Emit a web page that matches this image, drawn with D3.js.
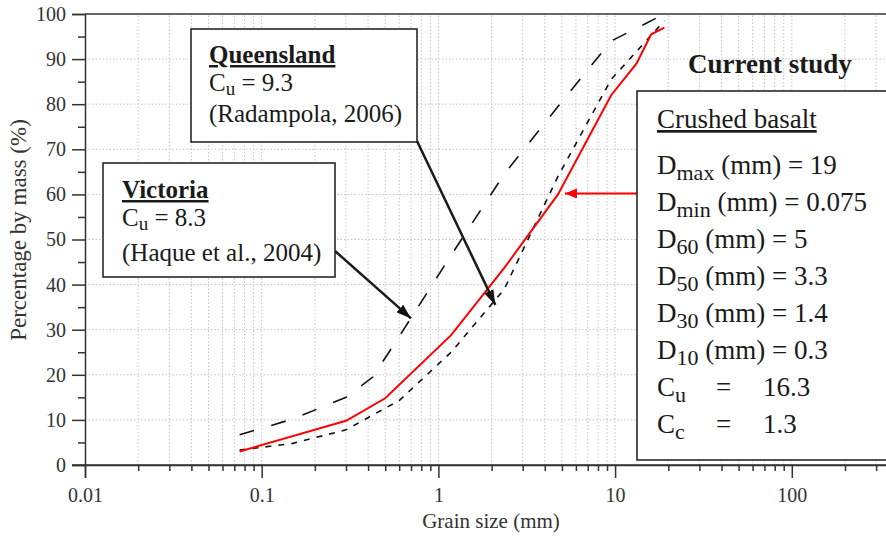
<!DOCTYPE html>
<html>
<head>
<meta charset="utf-8">
<script src="https://cdn.jsdelivr.net/npm/d3@7"></script>
<style>
body { margin: 0; background: #fff; }
svg { display: block; font-family: "Liberation Serif", "Times New Roman", serif; }
</style>
</head>
<body>
<div id="chart"></div>
<script>
// grading curves: grain size (mm) vs percentage passing (%)
const basaltSize = [0.075, 0.3, 0.5, 1.18, 2.36, 4.75, 9.5, 13.2, 16, 19];
const basaltPass = [3, 9.8, 14.8, 28.8, 43.7, 60, 82, 89, 95.5, 97];

const victoriaSize = [0.075, 0.15, 0.3, 0.425, 0.6, 1.18, 2.36, 4.75, 9.5, 19];
const victoriaPass = [6.7, 10.2, 15, 19.5, 28.5, 46.5, 64.5, 79.5, 94, 100];

const queenslandSize = [0.075, 0.15, 0.3, 0.6, 1.18, 2.36, 4.75, 9.5, 19];
const queenslandPass = [3.3, 4.8, 7.8, 14.3, 25, 39, 64, 85.5, 98.5];

// axis ticks
const xMajor = [0.01, 0.1, 1, 10, 100];
const yMajor = [0, 10, 20, 30, 40, 50, 60, 70, 80, 90, 100];
const yMinor = [5, 15, 25, 35, 45, 55, 65, 75, 85, 95];

// where the arrows point (data coords)
const victoriaTip = [0.7, 32.5];
const queenslandTip = [2.1, 35.5];
const basaltTip = [5.2, 60.2];

// basalt properties box
const basaltRows = [
    ["D", "max", " (mm) = 19"],
    ["D", "min", " (mm) = 0.075"],
    ["D", "60", " (mm) = 5"],
    ["D", "50", " (mm) = 3.3"],
    ["D", "30", " (mm) = 1.4"],
    ["D", "10", " (mm) = 0.3"]
];
const basaltCoef = [["u", "16.3"], ["c", "1.3"]];

const W = 886, H = 537;
const margin = {top: 14, left: 85, bottom: 465};
const decade = 176.7;

const x = d3.scaleLog().domain([0.01, 1000]).range([margin.left, margin.left + 5 * decade]);
const y = d3.scaleLinear().domain([0, 100]).range([margin.bottom, margin.top]);

const svg = d3.select("#chart").append("svg")
    .attr("width", W)
    .attr("height", H);

// arrow heads
const defs = svg.append("defs");
[["arrowBlack", "#111", 15, 10], ["arrowRed", "#f00", 12, 10]].forEach(([id, c, l, w]) => {
    defs.append("marker")
        .attr("id", id)
        .attr("markerUnits", "userSpaceOnUse")
        .attr("viewBox", `0 0 ${l} ${w}`)
        .attr("refX", l).attr("refY", w / 2)
        .attr("markerWidth", l).attr("markerHeight", w)
        .attr("orient", "auto")
        .append("path")
        .attr("d", `M0,0L${l},${w / 2}L0,${w}Z`)
        .attr("fill", c);
});

// all log ticks inside the visible width
const xAll = x.ticks().filter(d => x(d) < W);

//grid
svg.append("g")
    .selectAll("line")
    .data(xAll.filter(d => d > 0.01))
    .join("line")
    .attr("x1", d => x(d)).attr("x2", d => x(d))
    .attr("y1", y(0)).attr("y2", y(100))
    .attr("stroke", "#c4c4c4")
    .attr("stroke-dasharray", "1.5,2");

svg.append("g")
    .selectAll("line")
    .data(yMajor.filter(d => d > 0 && d < 100))
    .join("line")
    .attr("x1", margin.left).attr("x2", W)
    .attr("y1", d => y(d)).attr("y2", d => y(d))
    .attr("stroke", "#c4c4c4")
    .attr("stroke-dasharray", "1.5,2");

// axes
const axisColor = "#333";

svg.append("g")
    .attr("transform", `translate(${margin.left},0)`)
    .call(d3.axisLeft(y).tickValues(yMajor).tickSize(13).tickPadding(6));
svg.append("g")
    .attr("transform", `translate(${margin.left},0)`)
    .call(d3.axisLeft(y).tickValues(yMinor).tickSize(7).tickFormat(""))
    .select(".domain").remove();

svg.append("g")
    .attr("transform", `translate(0,${margin.bottom})`)
    .call(d3.axisBottom(x).tickValues(xMajor).tickSize(13).tickPadding(10).tickFormat(d => String(d)));
svg.append("g")
    .attr("transform", `translate(0,${margin.bottom})`)
    .call(d3.axisBottom(x).tickValues(xAll.filter(d => !xMajor.includes(d))).tickSize(6).tickFormat(""))
    .select(".domain").remove();

svg.selectAll(".domain, .tick line")
    .attr("stroke", axisColor)
    .attr("stroke-width", 1.5);
svg.selectAll(".tick text")
    .attr("fill", axisColor)
    .style("font-size", "20px")
    .style("font-family", "'Liberation Serif', serif");

// bottom line reaches left of the y axis, top frame line
svg.append("line")
    .attr("x1", margin.left - 13).attr("x2", W)
    .attr("y1", y(0)).attr("y2", y(0))
    .attr("stroke", axisColor).attr("stroke-width", 1.5);
svg.append("line")
    .attr("x1", margin.left).attr("x2", W)
    .attr("y1", y(100)).attr("y2", y(100))
    .attr("stroke", axisColor).attr("stroke-width", 1.5);

// axis titles
svg.append("text")
    .attr("x", 491).attr("y", 528)
    .attr("text-anchor", "middle")
    .attr("fill", axisColor)
    .style("font-size", "21px")
    .text("Grain size (mm)");

svg.append("text")
    .attr("transform", "translate(26,230) rotate(-90)")
    .attr("text-anchor", "middle")
    .attr("fill", axisColor)
    .style("font-size", "23px")
    .text("Percentage by mass (%)");

// curves
const line = d3.line().x(d => x(d[0])).y(d => y(d[1]));

svg.append("path")
    .datum(victoriaSize.map((d, i) => [d, victoriaPass[i]]))
    .attr("d", line)
    .attr("fill", "none")
    .attr("stroke", "#111")
    .attr("stroke-width", 1.6)
    .attr("stroke-dasharray", "15,18");

svg.append("path")
    .datum(queenslandSize.map((d, i) => [d, queenslandPass[i]]))
    .attr("d", line)
    .attr("fill", "none")
    .attr("stroke", "#111")
    .attr("stroke-width", 1.6)
    .attr("stroke-dasharray", "6,7");

svg.append("path")
    .datum(basaltSize.map((d, i) => [d, basaltPass[i]]))
    .attr("d", line)
    .attr("fill", "none")
    .attr("stroke", "#f00")
    .attr("stroke-width", 2);

// annotation boxes
const ink = "#1a1a1a";

function box(x0, y0, x1, y1) {
    svg.append("rect")
        .attr("x", x0).attr("y", y0)
        .attr("width", x1 - x0).attr("height", y1 - y0)
        .attr("fill", "#fff")
        .attr("stroke", ink)
        .attr("stroke-width", 1.5);
}

function subText(tx, ty, main, sub, rest, size, subSize, shift) {
    const t = svg.append("text")
        .attr("x", tx).attr("y", ty)
        .attr("fill", ink)
        .style("font-size", size + "px");
    t.append("tspan").text(main);
    t.append("tspan").attr("dy", shift).style("font-size", subSize + "px").text(sub);
    t.append("tspan").attr("dy", -shift).text(rest);
    return t;
}

function heading(tx, ty, txt, size, bold, underline) {
    svg.append("text")
        .attr("x", tx).attr("y", ty)
        .attr("fill", ink)
        .style("font-size", size + "px")
        .style("font-weight", bold ? "bold" : "normal")
        .style("text-decoration", underline ? "underline" : "none")
        .text(txt);
}

// arrows first so the boxes sit over their tails
function arrow(x0, y0, tip, color, marker, w) {
    svg.append("line")
        .attr("x1", x0).attr("y1", y0)
        .attr("x2", x(tip[0])).attr("y2", y(tip[1]))
        .attr("stroke", color)
        .attr("stroke-width", w)
        .attr("marker-end", `url(#${marker})`);
}
arrow(335, 251, victoriaTip, ink, "arrowBlack", 2.5);
arrow(417, 141, queenslandTip, ink, "arrowBlack", 2.5);
arrow(637, y(basaltTip[1]), basaltTip, "#f00", "arrowRed", 2);

//Queensland
box(191, 29, 417, 142);
heading(209, 63, "Queensland", 25, true, true);
subText(209, 91, "C", "u", " = 9.3", 25, 19, 4);
heading(209, 122, "(Radampola, 2006)", 25, false, false);

//Victoria
box(103, 163, 335, 277);
heading(122, 198, "Victoria", 25, true, true);
subText(122, 226, "C", "u", " = 8.3", 25, 19, 4);
heading(122, 261, "(Haque et al., 2004)", 25, false, false);

//current study
heading(688, 73, "Current study", 27, true, false);
box(637, 91, 892, 460);
heading(657, 128, "Crushed basalt", 27, false, true);
basaltRows.forEach((r, i) => {
    subText(657, 174 + i * 37, r[0], r[1], r[2], 27, 22, 6);
});
basaltCoef.forEach((r, i) => {
    const by = 174 + (basaltRows.length + i) * 37;
    subText(657, by, "C", r[0], "", 27, 22, 6);
    heading(716, by, "=", 27, false, false);
    heading(763, by, r[1], 27, false, false);
});
</script>
</body>
</html>
